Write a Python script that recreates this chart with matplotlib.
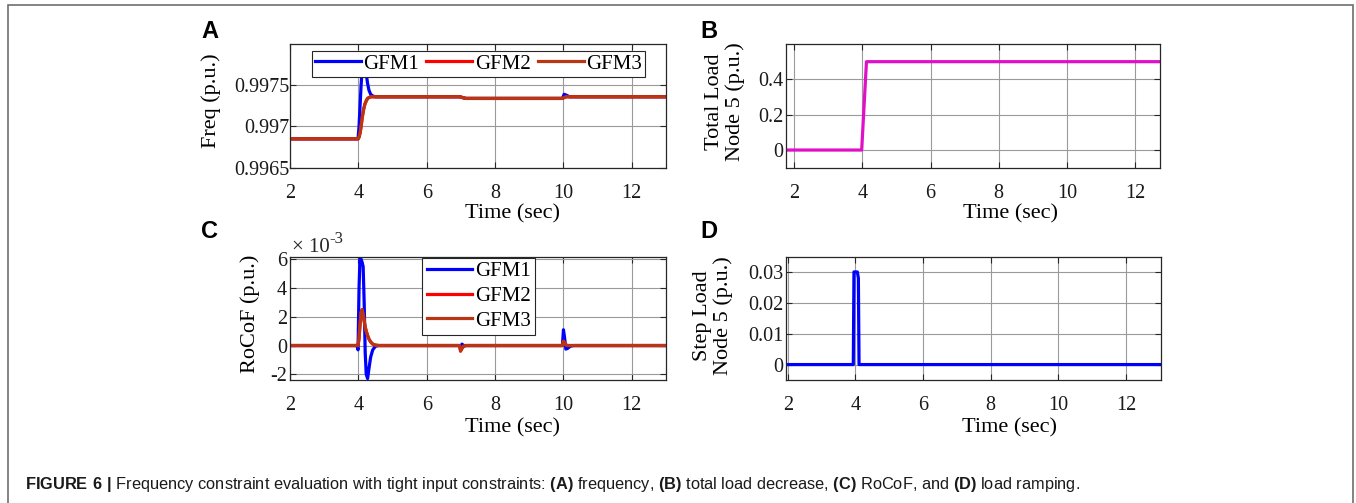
import matplotlib
matplotlib.use("Agg")
import matplotlib.pyplot as plt
from matplotlib.patches import Rectangle

# ---------------- data ----------------
x_ticks = [2, 4, 6, 8, 10, 12]

# (A) frequency
freq_t = [2.0, 3.99, 4.02, 4.05, 4.08, 4.11, 4.15, 4.19, 4.23, 4.27, 4.31, 4.36, 4.42, 4.50,
          6.97, 7.05, 7.15, 9.97, 10.02, 10.08, 10.18, 13.0]
freq_gfm1 = [0.99685, 0.99685, 0.99700, 0.99725, 0.99750, 0.99768, 0.99776, 0.99774, 0.99764,
             0.99752, 0.99744, 0.99739, 0.99737, 0.99736, 0.99736, 0.99735, 0.99734, 0.99734,
             0.99739, 0.99738, 0.99736, 0.99736]
freq_gfm2 = [0.99685, 0.99685, 0.99687, 0.99692, 0.99700, 0.99710, 0.99720, 0.99727, 0.99731,
             0.99734, 0.99735, 0.99736, 0.99736, 0.99736, 0.99736, 0.99735, 0.99734, 0.99734,
             0.99735, 0.99736, 0.99736, 0.99736]
freq_gfm3 = [0.99685, 0.99685, 0.99687, 0.99692, 0.99700, 0.99710, 0.99720, 0.99727, 0.99731,
             0.99734, 0.99735, 0.99736, 0.99736, 0.99736, 0.99736, 0.99735, 0.99734, 0.99734,
             0.99735, 0.99736, 0.99736, 0.99736]
freq_yticks = [0.9965, 0.997, 0.9975]
freq_yticklabels = ["0.9965", "0.997", "0.9975"]

# (B) total load node 5
load_t = [1.76, 3.98, 4.12, 12.73]
total_load = [0.0, 0.0, 0.5, 0.5]
load_yticks = [0, 0.2, 0.4]
load_yticklabels = ["0", "0.2", "0.4"]

# (C) RoCoF (x 1e-3)
rocof_t = [2.0, 3.96, 3.99, 4.02, 4.05, 4.08, 4.11, 4.14, 4.17, 4.20, 4.23, 4.27, 4.31, 4.36,
           4.42, 4.50, 4.60, 6.96, 6.99, 7.03, 7.08, 7.15, 9.97, 10.00, 10.03, 10.07, 10.12,
           10.20, 10.30, 13.0]
rocof_gfm1 = [0, 0, -0.3, 4.0, 6.2, 6.0, 5.8, 5.5, 3.0, -0.5, -2.0, -2.3, -1.6, -0.8, -0.3,
              -0.05, 0, 0, -0.2, 0.1, 0, 0, 0, 1.1, 0.6, -0.25, -0.2, -0.05, 0, 0]
rocof_gfm2 = [0, 0, 0, 0.5, 1.5, 2.3, 2.5, 2.2, 1.7, 1.3, 1.0, 0.7, 0.45, 0.25, 0.1, 0.03, 0,
              0, -0.4, -0.2, -0.05, 0, 0, 0.3, 0.2, 0.05, 0, 0, 0, 0]
rocof_gfm3 = [0, 0, 0, 0.5, 1.5, 2.3, 2.5, 2.2, 1.7, 1.3, 1.0, 0.7, 0.45, 0.25, 0.1, 0.03, 0,
              0, -0.35, -0.2, -0.05, 0, 0, 0.3, 0.2, 0.05, 0, 0, 0, 0]
rocof_yticks = [-2, 0, 2, 4, 6]
rocof_yticklabels = ["-2", "0", "2", "4", "6"]

# (D) step load node 5
step_t = [1.95, 3.94, 3.96, 4.06, 4.09, 4.11, 13.03]
step_load = [0.0, 0.0, 0.03, 0.03, 0.028, 0.0, 0.0]
step_yticks = [0, 0.01, 0.02, 0.03]
step_yticklabels = ["0", "0.01", "0.02", "0.03"]

series_names = ["GFM1", "GFM2", "GFM3"]
series_colors = ["#0000FF", "#FF0000", "#BA3612"]

# ---------------- style ----------------
plt.rcParams["font.family"] = ["Liberation Serif", "DejaVu Serif"]
plt.rcParams["mathtext.fontset"] = "custom"
plt.rcParams["mathtext.bf"] = "Liberation Sans:bold"
plt.rcParams["mathtext.rm"] = "Liberation Sans"

W, H = 1356, 503
fig = plt.figure(figsize=(W / 100, H / 100), dpi=100)

def fx(px):
    return px / W

def fy(py):
    return 1 - py / H

def make_ax(l, t, r, b):
    ax = fig.add_axes([fx(l), fy(b), fx(r) - fx(l), fy(t) - fy(b)])
    for s in ax.spines.values():
        s.set_color("#262626")
        s.set_linewidth(0.9)
    ax.grid(True, color="#9a9a9a", linewidth=0.8)
    ax.set_axisbelow(True)
    ax.tick_params(direction="in", length=4, width=0.8, top=True, right=True,
                   labelsize=14.5, colors="#262626", labelcolor="#1a1a1a")
    ax.tick_params(axis="x", pad=11.5)
    ax.tick_params(axis="y", pad=2)
    return ax

LW = 2.3
lab_fs = 16

# A
axA = make_ax(290, 44, 666, 167.7)
for tt, yy, nm, c in zip([freq_t] * 3, [freq_gfm1, freq_gfm2, freq_gfm3], series_names, series_colors):
    axA.plot(tt, yy, color=c, lw=LW, label=nm)
axA.set_xlim(2, 13)
axA.set_ylim(0.9965, 0.998)
axA.set_xticks(x_ticks)
axA.set_yticks(freq_yticks)
axA.set_yticklabels(freq_yticklabels)
axA.tick_params(axis="y", pad=0.5)
axA.set_xlabel("Time (sec)", fontsize=lab_fs)
axA.xaxis.set_label_coords(0.592, -0.375)
axA.xaxis.label.set_va("center")
axA.set_ylabel("Freq (p.u.)", fontsize=lab_fs)
axA.yaxis.set_label_coords(-0.21, 0.543)
axA.yaxis.label.set_va("center")
legA = axA.legend(loc="upper left", bbox_to_anchor=(0.0585, 0.943), ncol=3, fontsize=15,
                  frameon=True, fancybox=False, edgecolor="#262626", framealpha=1,
                  borderaxespad=0, borderpad=0.15, handlelength=2.2, handletextpad=0.12,
                  columnspacing=0.35)
legA.get_frame().set_linewidth(0.8)

# B
axB = make_ax(786, 44, 1160, 167.7)
axB.plot(load_t, total_load, color="#E010C8", lw=LW)
axB.set_xlim(1.76, 12.73)
axB.set_ylim(-0.1, 0.6)
axB.set_xticks(x_ticks)
axB.set_yticks(load_yticks)
axB.set_yticklabels(load_yticklabels)
axB.set_xlabel("Time (sec)", fontsize=lab_fs)
axB.xaxis.set_label_coords(0.599, -0.375)
axB.xaxis.label.set_va("center")
axB.set_ylabel("Total Load\nNode 5 (p.u.)", fontsize=lab_fs, linespacing=1.05)
axB.yaxis.set_label_coords(-0.163, 0.534)
axB.yaxis.label.set_va("center")

# C
axC = make_ax(290, 256.5, 666, 380)
for tt, yy, nm, c in zip([rocof_t] * 3, [rocof_gfm1, rocof_gfm2, rocof_gfm3], series_names, series_colors):
    axC.plot(tt, yy, color=c, lw=LW, label=nm)
axC.set_xlim(2, 13)
axC.set_ylim(-2.4, 6.2)
axC.set_xticks(x_ticks)
axC.set_yticks(rocof_yticks)
axC.set_yticklabels(rocof_yticklabels)
axC.set_xlabel("Time (sec)", fontsize=lab_fs)
axC.xaxis.set_label_coords(0.592, -0.385)
axC.xaxis.label.set_va("center")
axC.set_ylabel("RoCoF (p.u.)", fontsize=lab_fs)
axC.yaxis.set_label_coords(-0.106, 0.532)
axC.yaxis.label.set_va("center")
legC = axC.legend(loc="upper left", bbox_to_anchor=(0.352, 0.99), ncol=1, fontsize=15,
                  frameon=True, fancybox=False, edgecolor="#262626", framealpha=1,
                  borderaxespad=0, borderpad=0.2, handlelength=2.2, handletextpad=0.12,
                  labelspacing=0.24)
legC.get_frame().set_linewidth(0.8)
tx = axC.text(0.005, 1.0, "\u00d7 10", transform=axC.transAxes, ha="left", va="bottom",
              fontsize=15, color="#262626")
axC.annotate("-3", xy=(1.0, 0.5), xycoords=tx, ha="left", va="bottom", fontsize=12,
             color="#262626")

# D
axD = make_ax(786, 256.5, 1160.7, 380)
axD.plot(step_t, step_load, color="#0000FF", lw=LW)
axD.set_xlim(1.95, 13.03)
axD.set_ylim(-0.005, 0.035)
axD.set_xticks(x_ticks)
axD.set_yticks(step_yticks)
axD.set_yticklabels(step_yticklabels)
axD.set_xlabel("Time (sec)", fontsize=lab_fs)
axD.xaxis.set_label_coords(0.597, -0.385)
axD.xaxis.label.set_va("center")
axD.set_ylabel("Step Load\nNode 5 (p.u.)", fontsize=lab_fs, linespacing=1.05)
axD.yaxis.set_label_coords(-0.195, 0.524)
axD.yaxis.label.set_va("center")

# panel letters
for letter, px, py in [("A", 210, 32), ("B", 709, 32), ("C", 210, 232), ("D", 709, 232)]:
    fig.text(fx(px), fy(py), letter, ha="center", va="center", fontsize=17,
             fontweight="bold", family=["Liberation Sans", "DejaVu Sans"])

# caption
caption = (r"$\mathbf{FIGURE\ 6\ |}$ Frequency constraint evaluation with tight input constraints: "
           r"$\mathbf{(A)}$ frequency, $\mathbf{(B)}$ total load decrease, "
           r"$\mathbf{(C)}$ RoCoF, and $\mathbf{(D)}$ load ramping.")
fig.text(fx(25), fy(485), caption, ha="left", va="center", fontsize=11.8,
         family=["Liberation Sans", "DejaVu Sans"], color="#1a1a1a")

# outer border
fig.patches.append(Rectangle((fx(8), fy(520)), fx(1353) - fx(8), fy(4.5) - fy(520),
                             transform=fig.transFigure, fill=False, edgecolor="#6e6e6e",
                             linewidth=1.2))

fig.savefig("out.png", dpi=100)
